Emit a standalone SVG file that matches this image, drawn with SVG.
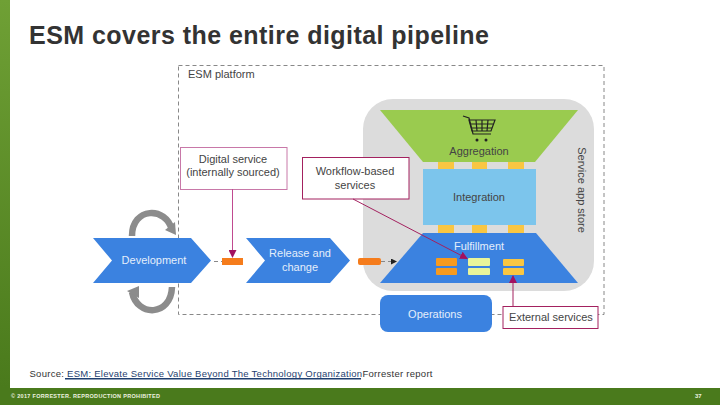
<svg xmlns="http://www.w3.org/2000/svg" width="720" height="405" viewBox="0 0 720 405">
<style>
.t{font-family:"Liberation Sans",Arial,sans-serif}
.d{font-size:11px;fill:#444;text-anchor:middle}
.w{font-size:11px;fill:#e4eefb;text-anchor:middle}
.b{fill:#3b82e0}
.y{fill:#f9c642}
.o{fill:#f79a1e}
.c{fill:#f57c1c}
.l{fill:#e9f59a}
.box{fill:#fff;stroke:#a3215f;stroke-width:1}
.dash{fill:none;stroke:#888;stroke-width:1;stroke-dasharray:4 3}
.mag{stroke:#a3215f;stroke-width:1;fill:none}
.pink{stroke:#c04a90;stroke-width:1;fill:none}
.loop{fill:none;stroke:#8c8c8c;stroke-width:6.500}
</style>
<defs>
<linearGradient id="bar" x1="0" y1="0" x2="0" y2="1"><stop offset="0" stop-color="#6fa035"/><stop offset="1" stop-color="#4a7a1c"/></linearGradient>
<marker id="mh" markerWidth="8" markerHeight="8" refX="7" refY="4" orient="auto" markerUnits="userSpaceOnUse"><path d="M0 0L8 4L0 8z" fill="#a3115f"/></marker>
<marker id="kh" markerWidth="6" markerHeight="6" refX="5" refY="3" orient="auto" markerUnits="userSpaceOnUse"><path d="M0 0L6 3L0 6z" fill="#222"/></marker>
</defs>
<rect width="720" height="405" fill="#fff"/>
<rect id="side-bar" width="10" height="388" fill="url(#bar)"/>
<rect id="footer-bar" y="388" width="720" height="17" fill="#4a7a1c"/>
<text id="title" class="t" x="29" y="44" font-size="25" font-weight="700" fill="#333" textLength="460">ESM covers the entire digital pipeline</text>

<g id="esm-platform">
<rect class="dash" x="178.500" y="65.500" width="425.500" height="249"/>
<text class="t" x="188" y="78" font-size="11" fill="#444">ESM platform</text>
</g>
<g id="service-app-store">
<rect x="363" y="99" width="231" height="192" rx="30" fill="#dcdcdc"/>
<text class="t" transform="translate(578,190) rotate(90)" font-size="11" fill="#444" text-anchor="middle">Service app store</text>
</g>

<g id="aggregation">
<path d="M380 110H578L535 162H423z" fill="#9acb4f"/>
<g fill="none" stroke="#222" stroke-width="1.200">
<path d="M463 116L469 118L473 134H491"/>
<path d="M469 120H495L491 131H472z"/>
<path d="M471 124H493M472 128H492M476 120L477 131M482 120V131M488 120L487 131"/>
</g>
<circle cx="477" cy="140" r="1.500" fill="#222"/><circle cx="486" cy="140" r="1.500" fill="#222"/>
<text class="t d" x="479" y="155">Aggregation</text>
</g>
<g id="upper-links" class="y">
<rect x="438" y="162" width="16" height="7"/><rect x="472" y="162" width="15" height="7"/><rect x="508" y="162" width="16" height="7"/>
</g>
<g id="integration">
<rect x="423" y="169" width="113" height="56" fill="#7cc5ec"/>
<text class="t d" x="479" y="201">Integration</text>
</g>
<g id="lower-links" class="y">
<rect x="438" y="225" width="16" height="8"/><rect x="472" y="225" width="15" height="8"/><rect x="508" y="225" width="16" height="8"/>
</g>
<g id="fulfillment">
<path class="b" d="M423 233H536L578 283H380z"/>
<text class="t w" x="479" y="250">Fulfillment</text>
<rect class="o" x="436" y="258" width="21" height="8" rx="1"/><rect class="o" x="436" y="268" width="21" height="7" rx="1"/>
<rect class="l" x="468" y="258" width="22" height="8" rx="1"/><rect class="l" x="468" y="268" width="22" height="7" rx="1"/>
<rect class="y" x="503" y="259" width="21" height="7" rx="1"/><rect class="y" x="503" y="268" width="21" height="7" rx="1"/>
</g>
<g id="operations">
<rect class="b" x="380" y="295" width="112" height="37" rx="8"/>
<text class="t w" x="435" y="318">Operations</text>
</g>
<g id="external-services">
<rect class="box" x="503" y="306.500" width="95" height="22"/>
<text class="t d" x="551" y="321">External services</text>
</g>
<g id="digital-service">
<rect x="180.500" y="147.500" width="106.500" height="42" fill="#fff" stroke="#c878a8"/>
<text class="t d" x="233" y="163">Digital service</text>
<text class="t d" x="233" y="176">(internally sourced)</text>
</g>
<g id="workflow-services">
<rect class="box" x="302.500" y="157.500" width="106.500" height="41.500"/>
<text class="t d" x="355" y="175">Workflow-based</text>
<text class="t d" x="355" y="189">services</text>
</g>
<g id="development">
<path class="b" d="M93 238H191L211 260.500L191 283H93L112 260.500z"/>
<text class="t w" x="154" y="264">Development</text>
</g>
<g id="release-change">
<path class="b" d="M246 238H330L350 260.500L330 283H246L265 260.500z"/>
<text class="t w" x="300" y="257">Release and</text>
<text class="t w" x="300" y="271">change</text>
</g>
<g id="connectors">
<path class="dash" d="M214 261.500H222M381 261.500H392"/>
<path d="M392 261.500H396" stroke="#555" marker-end="url(#kh)"/>
<rect class="c" x="222" y="258" width="21" height="7"/>
<rect class="c" x="358" y="258" width="23" height="7" rx="2"/>
<path class="pink" d="M232.500 189V257" marker-end="url(#mh)"/>
<path class="mag" d="M353 199L467 258.500" marker-end="url(#mh)"/>
<path class="mag" d="M513 306V276" marker-end="url(#mh)"/>
<path class="loop" d="M132 236C132 207 166 206 172 230"/>
<path d="M165 230L176 235L175 222z" fill="#8c8c8c"/>
<path class="loop" d="M172 287C171 317 137 317 132 292"/>
<path d="M127 291L139 286L139 298z" fill="#8c8c8c"/>
</g>
<g id="source-note">
<text class="t" x="29.500" y="377" font-size="9.500" fill="#333" textLength="403">Source: <tspan fill="#1f3f70">ESM: Elevate Service Value Beyond The Technology Organization</tspan>Forrester report</text>
<rect x="65" y="378" width="296" height="1.500" fill="#1f3f70"/>
</g>
<text id="footer-text" class="t" x="11" y="398" font-size="5.500" font-weight="700" fill="#eef3e0" textLength="149">© 2017 FORRESTER. REPRODUCTION PROHIBITED</text>
<text id="page-number" class="t" x="695" y="398" font-size="6" font-weight="700" fill="#eef3e0">37</text>
</svg>
